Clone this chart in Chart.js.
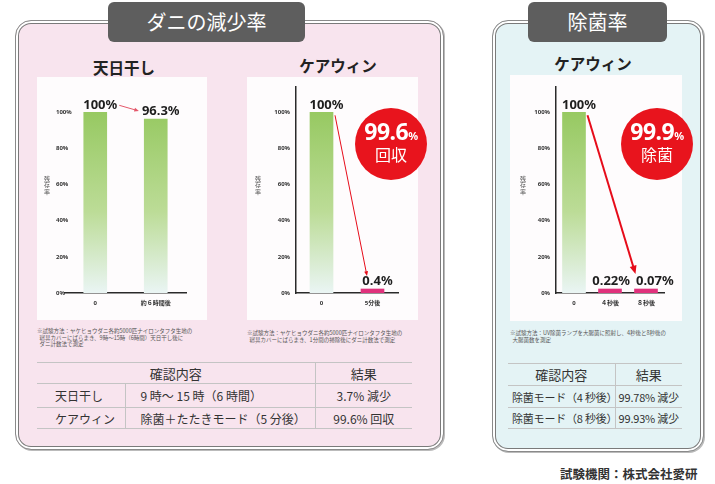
<!DOCTYPE html>
<html lang="ja">
<head>
<meta charset="utf-8">
<script src="https://cdn.jsdelivr.net/npm/chart.js@4.4.1/dist/chart.umd.min.js"></script>
<style>
  html, body { margin: 0; padding: 0; background: #fff; }
  body { width: 715px; height: 484px; position: relative; overflow: hidden;
         font-family: "Noto Sans CJK JP", "Noto Sans", sans-serif; color: #333; }
  .abs { position: absolute; }
  .panel { position: absolute; border: 1.5px solid #8a8a8a; border-radius: 16px;
           box-shadow: inset 0 0 0 2px #fff, inset 0 0 0 3px #7a7a7a, 1px 1px 0 #bbb; }
  .tab { position: absolute; background: #5e5e5e; color: #fff; border-radius: 6px;
         font-size: 20px; text-align: center; line-height: 40px; height: 40px; }
  .title { position: absolute; font-weight: bold; font-size: 15.5px; color: #222;
           transform: translateX(-50%); white-space: nowrap; line-height: 16px; }
  .plot { position: absolute; background: #fefcfd; }
  .plot canvas { display: block; }
  .note { position: absolute; font-size: 5.5px; line-height: 6.6px; color: #555; white-space: nowrap; }
  .badge { position: absolute; width: 72px; height: 72px; border-radius: 50%;
           background: #e8141d; color: #fff; text-align: center; }
  .badge .num { position: absolute; left: 0; right: 0; top: 11px; font-family: "Noto Sans", sans-serif;
                font-weight: bold; font-size: 23px; line-height: 24px; letter-spacing: -0.5px; }
  .badge .num small { font-size: 11px; font-weight: bold; }
  .badge .txt { position: absolute; left: 0; right: 0; top: 37px; font-size: 16px; line-height: 18px; }
  table { position: absolute; border-collapse: collapse; table-layout: fixed; color: #333; }
  td, th { border-top: 1px solid #c4c4c4; border-bottom: 1px solid #c4c4c4; padding: 0; white-space: nowrap; overflow: hidden; }
  th { font-weight: normal; font-size: 13px; }
  td { font-size: 12px; }
  .vl { border-right: 1px solid #c4c4c4; }
  .small td { font-size: 11px; letter-spacing: -0.2px; }
</style>
</head>
<body>

<!-- panels -->
<div class="panel" style="left:15px; top:20px; width:427px; height:428px; background:#f8e4ee;"></div>
<div class="panel" style="left:492px; top:20px; width:210px; height:430px; background:#e4f3f5;"></div>
<div class="tab" style="left:108px; top:2px; width:197px;">ダニの減少率</div>
<div class="tab" style="left:528px; top:2px; width:139px;">除菌率</div>

<!-- chart titles -->
<div class="title" style="left:124px; top:59px;">天日干し</div>
<div class="title" style="left:338px; top:57px;">ケアウィン</div>
<div class="title" style="left:593px; top:55px;">ケアウィン</div>

<!-- plots -->
<div class="plot" style="left:37px; top:77px; width:170px; height:243px;"><canvas id="sunChart" width="170" height="243"></canvas></div>
<div class="plot" style="left:247px; top:77px; width:171px; height:243px;"><canvas id="mitesChart" width="171" height="243"></canvas></div>
<div class="plot" style="left:510px; top:75px; width:172px; height:246px;"><canvas id="germChart" width="172" height="246"></canvas></div>

<!-- badges -->
<div class="badge" style="left:355px; top:108px;"><div class="num">99.6<small>%</small></div><div class="txt">回収</div></div>
<div class="badge" style="left:621px; top:108px;"><div class="num">99.9<small>%</small></div><div class="txt">除菌</div></div>

<!-- notes -->
<div class="note" style="left:37px; top:328px;">※試験方法：ヤケヒョウダニ各約5000匹ナイロンタフタ生地の<br>&nbsp;&nbsp;寝具カバーにばらまき、9時～15時（6時間）天日干し後に<br>&nbsp;&nbsp;ダニ計数法で測定</div>
<div class="note" style="left:247px; top:330px;">※試験方法：ヤケヒョウダニ各約5000匹ナイロンタフタ生地の<br>&nbsp;&nbsp;寝具カバーにばらまき、1分間の掃除後にダニ計数法で測定</div>
<div class="note" style="left:510px; top:330px;">※試験方法：UV除菌ランプを大腸菌に照射し、4秒後と8秒後の<br>&nbsp;&nbsp;大腸菌数を測定</div>

<!-- tables -->
<table style="left:37px; top:362px; width:375px;">
  <colgroup><col style="width:88px"><col style="width:190px"><col style="width:97px"></colgroup>
  <tr style="height:21px"><th colspan="2" class="vl">確認内容</th><th>結果</th></tr>
  <tr style="height:24px"><td class="vl" style="padding-left:18px">天日干し</td><td class="vl" style="padding-left:15px">9 時～ 15 時（6 時間）</td><td style="text-align:center">3.7% 減少</td></tr>
  <tr style="height:21px"><td class="vl" style="padding-left:18px">ケアウィン</td><td class="vl" style="padding-left:15px">除菌＋たたきモード（5 分後）</td><td style="text-align:center">99.6% 回収</td></tr>
</table>
<table class="small" style="left:508px; top:363px; width:174px;">
  <colgroup><col style="width:107px"><col style="width:67px"></colgroup>
  <tr style="height:22px"><th class="vl">確認内容</th><th>結果</th></tr>
  <tr style="height:22px"><td class="vl" style="padding-left:4px">除菌モード（4 秒後）</td><td style="text-align:center">99.78% 減少</td></tr>
  <tr style="height:21px"><td class="vl" style="padding-left:4px">除菌モード（8 秒後）</td><td style="text-align:center">99.93% 減少</td></tr>
</table>

<div class="abs" style="left:560px; top:464px; font-size:12.5px; font-weight:bold; color:#333;">試験機関：株式会社愛研</div>

<script>
// ---- data ----
const yTicks = [0, 20, 40, 60, 80, 100];
const sunLabels = ['0', '約６時間後'];
const sunValues = [100, 96.3];
const mitesLabels = ['0', '5分後'];
const mitesValues = [100, 0.4];
const germLabels = ['0', '４秒後', '８秒後'];
const germValues = [100, 0.22, 0.07];

Chart.defaults.font.family = '"Noto Sans", "Noto Sans CJK JP", sans-serif';

// green bars fade from the top down, small results are magenta
function barColor(ctx) {
  const chart = ctx.chart;
  const area = chart.chartArea;
  const v = ctx.raw;
  if (v < 50) return '#e0317c';
  if (!area) return '#9dcd6b';
  const g = chart.ctx.createLinearGradient(0, chart.scales.y.getPixelForValue(100), 0, area.bottom);
  g.addColorStop(0, '#97c962');
  g.addColorStop(0.55, '#bcdc97');
  g.addColorStop(1, '#eaf5f4');
  return g;
}

function drawArrow(ctx, x1, y1, x2, y2, width, head, color) {
  const a = Math.atan2(y2 - y1, x2 - x1);
  ctx.strokeStyle = color;
  ctx.fillStyle = color;
  ctx.lineWidth = width;
  ctx.beginPath();
  ctx.moveTo(x1, y1);
  ctx.lineTo(x2 - head * 0.7 * Math.cos(a), y2 - head * 0.7 * Math.sin(a));
  ctx.stroke();
  ctx.beginPath();
  ctx.moveTo(x2, y2);
  ctx.lineTo(x2 - head * Math.cos(a - 0.4), y2 - head * Math.sin(a - 0.4));
  ctx.lineTo(x2 - head * Math.cos(a + 0.4), y2 - head * Math.sin(a + 0.4));
  ctx.closePath();
  ctx.fill();
}

// value labels, red arrow and stacked axis title
const overlayPlugin = {
  id: 'overlay',
  afterDatasetsDraw(chart, args, opts) {
    const ctx = chart.ctx;
    const bars = chart.getDatasetMeta(0).data;
    const values = chart.data.datasets[0].data;
    ctx.save();
    ctx.font = 'bold 13px "Noto Sans", sans-serif';
    ctx.fillStyle = '#1e1e1e';
    ctx.textBaseline = 'bottom';
    ctx.textAlign = 'left';

    // place labels slightly right of bar centre, pushing apart if they collide
    const boxes = bars.map((bar, i) => {
      const txt = values[i] + '%';
      const w = ctx.measureText(txt).width;
      const x = bar.x + 5 - w / 2;
      const y = bar.y - 1;
      return { txt, l: x, r: x + w, w, y, top: y - 11, mid: y - 6 };
    });
    for (let i = 1; i < boxes.length; i++) {
      const p = boxes[i - 1], b = boxes[i];
      const need = p.r + 6 - b.l;
      if (need > 0 && Math.abs(p.y - b.y) < 12) {
        p.l -= need / 2; p.r -= need / 2;
        b.l += need / 2; b.r += need / 2;
      }
    }
    boxes.forEach(b => ctx.fillText(b.txt, b.l, b.y));

    const first = bars[0];
    const last = bars[bars.length - 1];
    if (opts.arrow === 'side') {
      const b0 = boxes[0], b1 = boxes[boxes.length - 1];
      drawArrow(ctx, b0.r + 2, b0.mid, b1.l - 3, b1.mid - 1, 1, 5, '#e4576a');
    } else {
      const thick = opts.arrow === 'bold';
      drawArrow(ctx,
        first.x + first.width / 2 + 2, first.y + 3,
        last.x - last.width / 2 + (thick ? 1 : 6), boxes[boxes.length - 1].top - (thick ? 3 : 1),
        thick ? 2 : 1, thick ? 9 : 5, '#e60c1a');
    }

    // y-axis title, characters stacked vertically
    ctx.font = '6px "Noto Sans CJK JP", sans-serif';
    ctx.fillStyle = '#555';
    ctx.textAlign = 'center';
    ctx.textBaseline = 'middle';
    const chars = Array.from('残存率');
    const midY = (chart.chartArea.top + chart.chartArea.bottom) / 2 - 5;
    chars.forEach((c, i) => ctx.fillText(c, opts.titleX, midY + (i - 1) * 6.5));
    ctx.restore();
  }
};

function makeChart(id, labels, values, layout) {
  return new Chart(document.getElementById(id).getContext('2d'), {
    type: 'bar',
    data: {
      labels: labels,
      datasets: [{
        data: values,
        backgroundColor: barColor,
        barThickness: 23,
        minBarLength: 4
      }]
    },
    options: {
      responsive: false,
      animation: false,
      layout: { padding: { top: layout.top, right: layout.right, left: 0, bottom: 0 } },
      plugins: {
        legend: { display: false },
        tooltip: { enabled: false },
        overlay: { arrow: layout.arrow, titleX: layout.titleX }
      },
      scales: {
        y: {
          min: 0,
          max: 114,
          afterBuildTicks: scale => { scale.ticks = yTicks.map(v => ({ value: v })); },
          afterFit: scale => { scale.width = layout.yWidth; },
          ticks: {
            callback: v => v + '%',
            font: { size: 6, weight: 'bold' },
            color: '#333',
            padding: layout.yPad,
            mirror: layout.mirror
          },
          grid: { display: false, drawTicks: false },
          border: { display: layout.yLine, color: '#2a2a2a', width: 1.5 }
        },
        x: {
          afterFit: scale => { scale.height = layout.xHeight; },
          ticks: { font: { size: 6, weight: 'bold' }, color: '#333', padding: 7 },
          grid: { display: false, drawTicks: false },
          border: { color: '#2a2a2a', width: 1.5 }
        }
      }
    },
    plugins: [overlayPlugin]
  });
}

makeChart('sunChart', sunLabels, sunValues,
  { top: 10, right: 21, yWidth: 28, xHeight: 27, yPad: -9, mirror: true, yLine: false, arrow: 'side', titleX: 10 });
makeChart('mitesChart', mitesLabels, mitesValues,
  { top: 10, right: 20, yWidth: 49, xHeight: 27, yPad: 6, mirror: false, yLine: true, arrow: 'thin', titleX: 11 });
makeChart('germChart', germLabels, germValues,
  { top: 12, right: 18, yWidth: 46, xHeight: 28, yPad: 6, mirror: false, yLine: true, arrow: 'bold', titleX: 13 });
</script>
</body>
</html>
